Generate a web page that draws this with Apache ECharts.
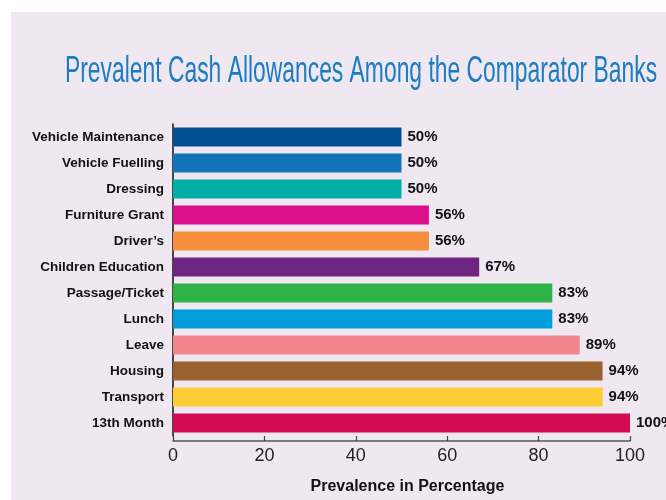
<!DOCTYPE html>
<html>
<head>
<meta charset="utf-8">
<script src="https://cdn.jsdelivr.net/npm/echarts@6/dist/echarts.min.js"></script>
<style>
html,body{margin:0;padding:0;background:#ffffff;}
#chart{width:666px;height:500px;}
</style>
</head>
<body>
<div id="chart"></div>
<script>
var categories = ["Vehicle Maintenance","Vehicle Fuelling","Dressing","Furniture Grant","Driver’s","Children Education","Passage/Ticket","Lunch","Leave","Housing","Transport","13th Month"];
var values = [50,50,50,56,56,67,83,83,89,94,94,100];
var barColors = ["#004f93","#1474bb","#00b0a6","#d90f8c","#f68e3b","#6d2580","#2eb24a","#019dda","#f2868f","#9a622e","#fdcb32","#d30b53"];
var xTicks = [0,20,40,60,80,100];
var titleText = "Prevalent Cash Allowances Among the Comparator Banks";
var xAxisName = "Prevalence in Percentage";

var chart = echarts.init(document.getElementById('chart'), null, {renderer:'canvas'});
var fontMain = "'Liberation Sans', Arial, Helvetica, sans-serif";
chart.setOption({
  animation:false,
  backgroundColor:'#ffffff',
  graphic:[
    {type:'rect', z:-10, silent:true, shape:{x:11,y:12,width:655,height:488}, style:{fill:'#efe8f1'}},
    {type:'text', z:10, x:65, y:54, scaleX:0.635, originX:0, originY:0,
     style:{text:titleText, fill:'#1b7bc3', fontFamily:"'Liberation Sans Narrow','Liberation Sans',sans-serif", fontSize:36, fontWeight:'normal', textVerticalAlign:'top'}}
  ],
  grid:{left:173, right:36, top:124, height:312, containLabel:false},
  xAxis:{
    type:'value', min:0, max:100, interval:20, offset:5,
    axisLine:{show:true, lineStyle:{color:'#555555', width:1.5}},
    axisTick:{show:true, inside:true, length:5, lineStyle:{color:'#444444', width:1.2}},
    splitLine:{show:false},
    axisLabel:{color:'#222222', fontSize:18, fontFamily:fontMain, margin:6,
      formatter:function(v){return xTicks.indexOf(v)>=0 ? String(v) : '';}},
    name:xAxisName, nameLocation:'middle', nameGap:38,
    nameTextStyle:{color:'#111111', fontSize:16, fontWeight:'bold', fontFamily:fontMain, padding:[0,0,0,12]}
  },
  yAxis:{
    type:'category', data:categories, inverse:true,
    axisLine:{show:true, lineStyle:{color:'#111111', width:1.5}},
    axisTick:{show:false},
    axisLabel:{color:'#111111', fontSize:13.5, fontWeight:'bold', fontFamily:fontMain, margin:9}
  },
  series:[{
    type:'bar', barWidth:19,
    data:values.map(function(v,i){return {value:v, itemStyle:{color:barColors[i]}};}),
    label:{show:true, position:'right', distance:6, formatter:'{c}%', color:'#111111', fontSize:15, fontWeight:'bold', fontFamily:fontMain}
  }]
});
</script>
</body>
</html>
